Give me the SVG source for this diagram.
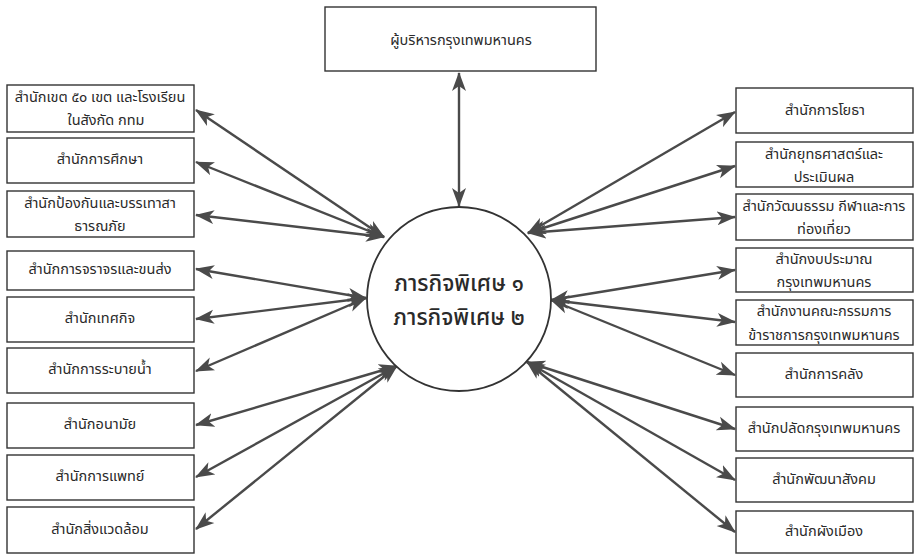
<svg xmlns="http://www.w3.org/2000/svg" width="919" height="556" viewBox="0 0 919 556">
<style>
.box{fill:#fff;stroke:#333;stroke-width:1.4}
.t{font-family:"Noto Sans Thai","Noto Sans","Loma","Garuda",sans-serif;font-size:14.5px;fill:#2a2a2a;text-anchor:middle;dominant-baseline:central}
.c{font-family:"Noto Sans Thai","Noto Sans","Loma",sans-serif;font-size:22.5px;font-weight:500;fill:#2a2a2a;text-anchor:middle;dominant-baseline:central}
.ln{stroke:#4a4a4a;stroke-width:2.4;fill:none;marker-start:url(#ah);marker-end:url(#ah)}
</style>
<defs>
<marker id="ah" markerUnits="userSpaceOnUse" markerWidth="20" markerHeight="15" refX="18" refY="7" orient="auto-start-reverse" viewBox="0 0 20 14">
<path d="M0,0 L19,7 L0,14 L5,7 z" fill="#4a4a4a"/>
</marker>
</defs>
<rect width="919" height="556" fill="#fff"/>
<g id="connectors">
<line class="ln" x1="459" y1="73" x2="459" y2="206"/>
<line class="ln" x1="196" y1="110" x2="384" y2="237"/>
<line class="ln" x1="196" y1="162" x2="384" y2="237"/>
<line class="ln" x1="196" y1="215" x2="384" y2="237"/>
<line class="ln" x1="196" y1="269" x2="366" y2="298"/>
<line class="ln" x1="196" y1="319" x2="366" y2="298"/>
<line class="ln" x1="196" y1="371" x2="366" y2="298"/>
<line class="ln" x1="196" y1="425" x2="397" y2="366"/>
<line class="ln" x1="196" y1="477" x2="397" y2="366"/>
<line class="ln" x1="196" y1="529" x2="397" y2="366"/>
<line class="ln" x1="735" y1="112" x2="528" y2="233"/>
<line class="ln" x1="735" y1="166" x2="528" y2="233"/>
<line class="ln" x1="735" y1="217" x2="528" y2="233"/>
<line class="ln" x1="735" y1="270" x2="551" y2="300"/>
<line class="ln" x1="735" y1="322" x2="551" y2="300"/>
<line class="ln" x1="735" y1="375" x2="551" y2="300"/>
<line class="ln" x1="735" y1="429" x2="527" y2="362"/>
<line class="ln" x1="735" y1="480" x2="527" y2="362"/>
<line class="ln" x1="735" y1="532" x2="527" y2="362"/>
</g>
<g id="top"><rect class="box" x="325" y="7" width="271" height="64"/><text class="t" x="461" y="41">ผู้บริหารกรุงเทพมหานคร</text></g>
<g id="center"><circle cx="459" cy="299" r="92" fill="#fff" stroke="#333" stroke-width="1.8"/><text class="c" x="459" y="284">ภารกิจพิเศษ ๑</text><text class="c" x="459" y="318">ภารกิจพิเศษ ๒</text></g>
<g id="l1"><rect class="box" x="7" y="85" width="187" height="47"/><text class="t" x="100" y="98">สำนักเขต ๕๐ เขต และโรงเรียน</text><text class="t" x="106" y="121">ในสังกัด กทม</text></g>
<g id="l2"><rect class="box" x="7" y="138" width="187" height="45"/><text class="t" x="100" y="160">สำนักการศึกษา</text></g>
<g id="l3"><rect class="box" x="7" y="191" width="187" height="46"/><text class="t" x="100" y="204">สำนักป้องกันและบรรเทาสา</text><text class="t" x="100" y="227">ธารณภัย</text></g>
<g id="l4"><rect class="box" x="7" y="251" width="187" height="39"/><text class="t" x="100" y="270">สำนักการจราจรและขนส่ง</text></g>
<g id="l5"><rect class="box" x="7" y="297" width="187" height="45"/><text class="t" x="100" y="319">สำนักเทศกิจ</text></g>
<g id="l6"><rect class="box" x="7" y="348" width="187" height="45"/><text class="t" x="100" y="370">สำนักการระบายน้ำ</text></g>
<g id="l7"><rect class="box" x="7" y="403" width="187" height="45"/><text class="t" x="100" y="425">สำนักอนามัย</text></g>
<g id="l8"><rect class="box" x="7" y="455" width="187" height="45"/><text class="t" x="100" y="477">สำนักการแพทย์</text></g>
<g id="l9"><rect class="box" x="7" y="507" width="187" height="46"/><text class="t" x="100" y="530">สำนักสิ่งแวดล้อม</text></g>
<g id="r1"><rect class="box" x="736" y="88" width="177" height="45"/><text class="t" x="825" y="111">สำนักการโยธา</text></g>
<g id="r2"><rect class="box" x="736" y="142" width="177" height="45"/><text class="t" x="824" y="155">สำนักยุทธศาสตร์และ</text><text class="t" x="824" y="178">ประเมินผล</text></g>
<g id="r3"><rect class="box" x="736" y="194" width="177" height="46"/><text class="t" x="824" y="207">สำนักวัฒนธรรม กีฬาและการ</text><text class="t" x="824" y="230">ท่องเที่ยว</text></g>
<g id="r4"><rect class="box" x="736" y="248" width="177" height="44"/><text class="t" x="824" y="260">สำนักงบประมาณ</text><text class="t" x="824" y="283">กรุงเทพมหานคร</text></g>
<g id="r5"><rect class="box" x="736" y="300" width="177" height="45"/><text class="t" x="824" y="312">สำนักงานคณะกรรมการ</text><text class="t" x="824" y="336">ข้าราชการกรุงเทพมหานคร</text></g>
<g id="r6"><rect class="box" x="736" y="353" width="177" height="44"/><text class="t" x="824" y="375">สำนักการคลัง</text></g>
<g id="r7"><rect class="box" x="736" y="407" width="177" height="44"/><text class="t" x="824" y="429">สำนักปลัดกรุงเทพมหานคร</text></g>
<g id="r8"><rect class="box" x="736" y="458" width="177" height="44"/><text class="t" x="824" y="480">สำนักพัฒนาสังคม</text></g>
<g id="r9"><rect class="box" x="736" y="511" width="177" height="42"/><text class="t" x="824" y="532">สำนักผังเมือง</text></g>
</svg>
